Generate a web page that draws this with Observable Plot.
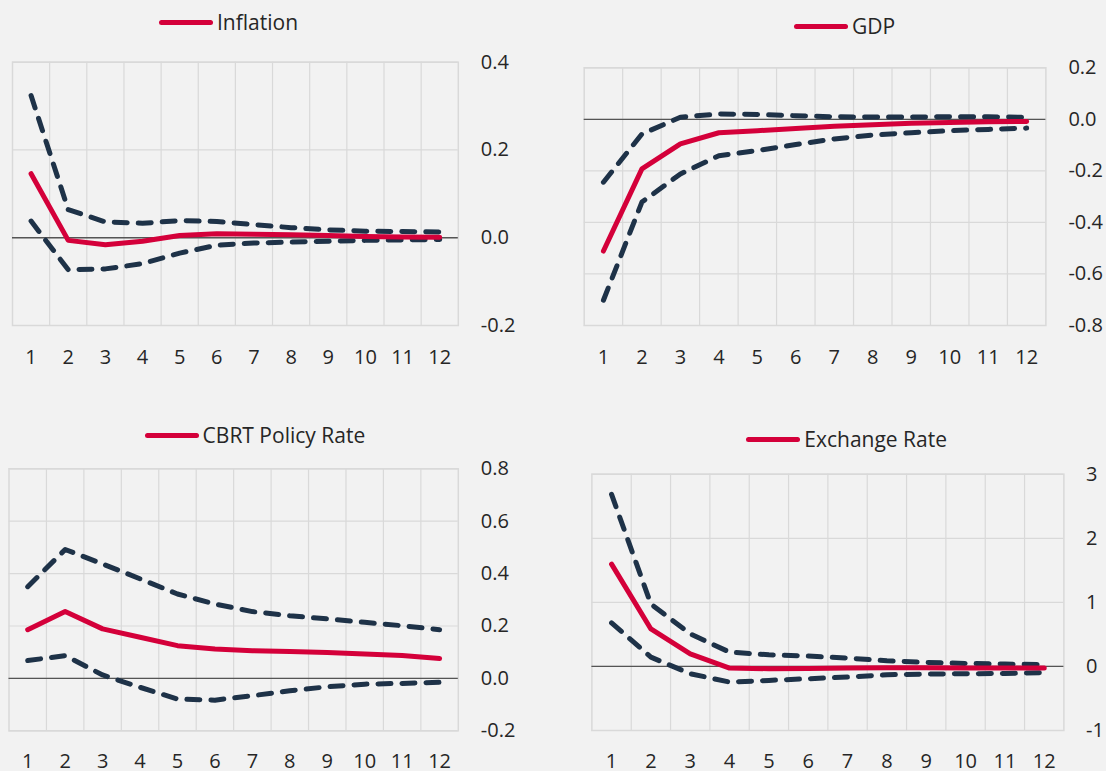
<!DOCTYPE html>
<html>
<head>
<meta charset="utf-8">
<script src="https://cdn.jsdelivr.net/npm/d3@7"></script>
<script src="https://cdn.jsdelivr.net/npm/@observablehq/plot@0.6"></script>
<style>
  html, body { margin: 0; padding: 0; background: #f2f2f2; }
  #root { position: relative; width: 1106px; height: 771px; overflow: hidden; background: #f2f2f2; font-family: "Open Sans", sans-serif; }
  .legend { position: absolute; display: flex; align-items: center; height: 30px; font-size: 21px; color: #262626; white-space: nowrap; }
  .swatch { width: 54px; height: 5px; border-radius: 3px; background: #d4003a; margin-right: 4px; }
  .chart { position: absolute; }
</style>
</head>
<body>
<div id="root"></div>
<script>
// ---------- data ----------
const horizons = [1, 2, 3, 4, 5, 6, 7, 8, 9, 10, 11, 12];

const seriesNames = ["Inflation", "GDP", "CBRT Policy Rate", "Exchange Rate"];

const inflationIRF   = [0.146, -0.006, -0.016, -0.008, 0.005, 0.009, 0.008, 0.007, 0.005, 0.003, 0.0015, 0.001];
const inflationUpper = [0.324, 0.064, 0.036, 0.033, 0.039, 0.037, 0.030, 0.023, 0.018, 0.015, 0.014, 0.013];
const inflationLower = [0.038, -0.073, -0.071, -0.059, -0.035, -0.017, -0.012, -0.010, -0.008, -0.006, -0.005, -0.004];
const inflationTicks = [-0.2, 0, 0.2, 0.4];

const gdpIRF   = [-0.511, -0.192, -0.095, -0.052, -0.044, -0.036, -0.027, -0.021, -0.015, -0.012, -0.009, -0.008];
const gdpUpper = [-0.244, -0.057, 0.008, 0.021, 0.019, 0.014, 0.010, 0.009, 0.009, 0.010, 0.010, 0.008];
const gdpLower = [-0.702, -0.321, -0.212, -0.141, -0.121, -0.098, -0.076, -0.061, -0.052, -0.044, -0.039, -0.034];
const gdpTicks = [-0.8, -0.6, -0.4, -0.2, 0, 0.2];

const policyIRF   = [0.186, 0.255, 0.189, 0.157, 0.125, 0.112, 0.106, 0.103, 0.099, 0.093, 0.087, 0.076];
const policyUpper = [0.350, 0.492, 0.437, 0.380, 0.322, 0.284, 0.255, 0.239, 0.227, 0.214, 0.201, 0.186];
const policyLower = [0.068, 0.087, 0.013, -0.034, -0.079, -0.083, -0.066, -0.047, -0.032, -0.022, -0.019, -0.015];
const policyTicks = [-0.2, 0, 0.2, 0.4, 0.6, 0.8];

const fxIRF   = [1.596, 0.585, 0.197, -0.026, -0.036, -0.031, -0.026, -0.021, -0.021, -0.026, -0.026, -0.026];
const fxUpper = [2.684, 0.974, 0.508, 0.223, 0.181, 0.161, 0.130, 0.088, 0.062, 0.047, 0.036, 0.031];
const fxLower = [0.679, 0.145, -0.114, -0.244, -0.218, -0.192, -0.166, -0.130, -0.119, -0.114, -0.109, -0.098];
const fxTicks = [-1, 0, 1, 2, 3];

// ---------- layout (positions only) ----------
const panels = [
  { name: seriesNames[0], irf: inflationIRF, up: inflationUpper, lo: inflationLower, ticks: inflationTicks, dec: 1,
    legend: { left: 159, cy: 22 }, svg: { left: 0, top: 44, width: 553, height: 341 },
    frame: { x0: 12, x1: 457.8, y0: 61.7, y1: 325 }, xPad: 24, yPad: 22.5 },
  { name: seriesNames[1], irf: gdpIRF, up: gdpUpper, lo: gdpLower, ticks: gdpTicks, dec: 1,
    legend: { left: 794, cy: 26 }, svg: { left: 553, top: 52, width: 553, height: 333 },
    frame: { x0: 583.7, x1: 1045.4, y0: 67.3, y1: 325 }, xPad: 24, yPad: 22.5 },
  { name: seriesNames[2], irf: policyIRF, up: policyUpper, lo: policyLower, ticks: policyTicks, dec: 1,
    legend: { left: 144.6, cy: 435 }, svg: { left: 0, top: 455, width: 553, height: 316 },
    frame: { x0: 8.5, x1: 457.8, y0: 468.3, y1: 730.3 }, xPad: 23, yPad: 22.5 },
  { name: seriesNames[3], irf: fxIRF, up: fxUpper, lo: fxLower, ticks: fxTicks, dec: 0,
    legend: { left: 746.3, cy: 439 }, svg: { left: 553, top: 460, width: 553, height: 311 },
    frame: { x0: 591.4, x1: 1063.4, y0: 473.7, y1: 730 }, xPad: 23, yPad: 22.2 }
];

const RED = "#d4003a";
const NAVY = "#1e3248";
const GRID = "#d9d9d9";
const FONT = 20;

const root = document.getElementById("root");
const boundaries = horizons.slice(1).map(h => h - 0.5);

for (const p of panels) {
  // legend (HTML, above the chart)
  const lg = document.createElement("div");
  lg.className = "legend";
  lg.style.left = p.legend.left + "px";
  lg.style.top = (p.legend.cy - 15) + "px";
  lg.innerHTML = `<span class="swatch"></span><span>${p.name}</span>`;
  root.appendChild(lg);

  const rows = horizons.map((h, i) => ({ h, irf: p.irf[i], up: p.up[i], lo: p.lo[i] }));
  const s = p.svg, f = p.frame;
  const chart = Plot.plot({
    width: s.width,
    height: s.height,
    marginLeft: f.x0 - s.left,
    marginRight: s.left + s.width - f.x1,
    marginTop: f.y0 - s.top,
    marginBottom: s.top + s.height - f.y1,
    style: { fontFamily: "Open Sans, sans-serif", fontSize: FONT + "px", background: "transparent", color: "#262626", overflow: "visible" },
    x: { type: "linear", domain: [horizons[0] - 0.5, horizons[horizons.length - 1] + 0.5] },
    y: { domain: [p.ticks[0], p.ticks[p.ticks.length - 1]] },
    marks: [
      Plot.ruleY(p.ticks, { stroke: GRID, strokeWidth: 1.2 }),
      Plot.ruleX(boundaries, { stroke: GRID, strokeWidth: 1.2 }),
      Plot.frame({ stroke: GRID, strokeWidth: 1.5 }),
      Plot.ruleY([0], { stroke: "#555", strokeWidth: 1.3 }),
      Plot.axisX({ ticks: horizons, tickSize: 0, tickPadding: p.xPad, tickFormat: d => String(d), fill: "#262626", fontSize: FONT, label: null }),
      Plot.axisY({ anchor: "right", ticks: p.ticks, tickSize: 0, tickPadding: p.yPad, tickFormat: d => d.toFixed(p.dec), textAnchor: "start", fill: "#262626", fontSize: FONT, label: null }),
      Plot.line(rows, { x: "h", y: "up", stroke: NAVY, strokeWidth: 5, strokeDasharray: "13,11", strokeLinecap: "round", strokeLinejoin: "round" }),
      Plot.line(rows, { x: "h", y: "lo", stroke: NAVY, strokeWidth: 5, strokeDasharray: "13,11", strokeLinecap: "round", strokeLinejoin: "round" }),
      Plot.line(rows, { x: "h", y: "irf", stroke: RED, strokeWidth: 5, strokeLinecap: "round", strokeLinejoin: "round" })
    ]
  });
  chart.classList.add("chart");
  chart.style.left = s.left + "px";
  chart.style.top = s.top + "px";
  root.appendChild(chart);
}
</script>
</body>
</html>
